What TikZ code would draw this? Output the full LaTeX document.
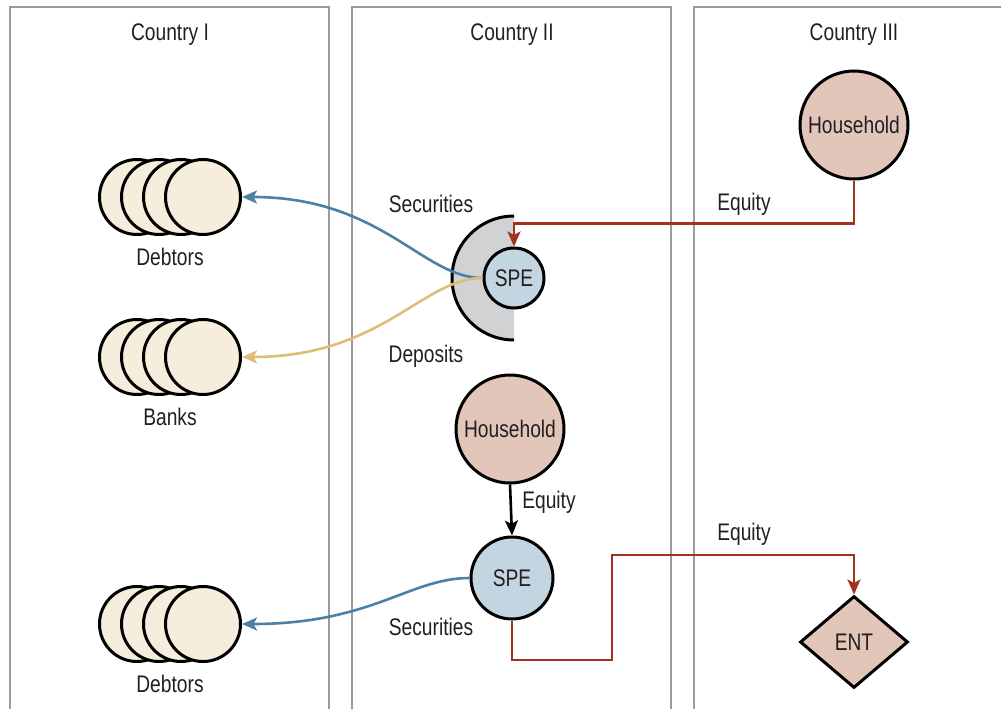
\documentclass[tikz,border=0pt]{standalone}
\usepackage{fontspec}
\setmainfont{Liberation Sans}[FakeStretch=0.8]
\usetikzlibrary{arrows.meta,shapes.geometric}

\definecolor{panelgray}{HTML}{9B9B9B}
\definecolor{txt}{HTML}{231F20}
\definecolor{cream}{HTML}{F6EEDC}
\definecolor{spefill}{HTML}{C3D5E1}
\definecolor{halfgray}{HTML}{D1D2D4}
\definecolor{rose}{HTML}{E3C6BA}
\definecolor{redline}{HTML}{A3311F}
\definecolor{blueline}{HTML}{4B81A2}
\definecolor{goldline}{HTML}{DDBE76}

\tikzset{
  lbl/.style={font=\fontsize{24}{28}\selectfont, text=txt, inner sep=0pt, yshift=-2pt},
  panel/.style={draw=panelgray, line width=2.2pt},
  party/.style={circle, draw=black, line width=3pt, fill=cream, minimum size=75pt, inner sep=0pt},
  spe/.style={circle, draw=black, line width=3pt, fill=spefill, inner sep=0pt,
    font=\fontsize{24}{28}\selectfont, text=txt},
  house/.style={circle, draw=black, line width=3pt, fill=rose, minimum size=108pt, inner sep=0pt,
    font=\fontsize{24}{28}\selectfont, text=txt},
  flow/.style={line width=2.6pt, -{Stealth[length=15pt,width=13pt,inset=3.5pt]}},
}

\begin{document}
\begin{tikzpicture}[x=1pt, y=-1pt]
\useasboundingbox (0,0) rectangle (1001,709);
\clip (0,0) rectangle (1001,709);

% country panels (open at the bottom)
\draw[panel] (10,730) -- (10,7) -- (329,7) -- (329,730);
\draw[panel] (352,730) -- (352,7) -- (671,7) -- (671,730);
\draw[panel] (694,730) -- (694,7) -- (1020,7);

\node[lbl] (c1) at (170,33) {Country I};
\node[lbl] (c2) at (512,33) {Country II};
\node[lbl] (c3) at (854,33) {Country III};

% Country I: stacks of debtors and banks
\foreach \r/\y in {a/197, b/357, c/624} {
  \node[party] (\r1) at (137,\y) {};
  \node[party] (\r2) at (159,\y) {};
  \node[party] (\r3) at (181,\y) {};
  \node[party] (\r4) at (203,\y) {};
}
\node[lbl] (debtorsA) at (170,255) {Debtors};
\node[lbl] (banks) at (170,415) {Banks};
\node[lbl] (debtorsB) at (170,682) {Debtors};

% Country II: upper SPE with its half-disc balance sheet
\coordinate (hc) at (514,278);
\fill[halfgray] (514,216) arc[start angle=-90, end angle=-270, radius=62] -- cycle;
\draw[line width=3pt] (514,216) arc[start angle=-90, end angle=-270, radius=62];
\node[spe, minimum size=60pt] (spe1) at (hc) {SPE};

% Country II: household and lower SPE
\node[house] (hh2) at (510,429) {Household};
\node[spe, minimum size=82pt] (spe2) at (512,578) {SPE};

% Country III
\node[house] (hh3) at (854,125) {Household};
\node[diamond, draw=black, line width=3pt, fill=rose, minimum width=108pt, minimum height=92pt,
      inner sep=0pt, font=\fontsize{24}{28}\selectfont, text=txt] (ent) at (854,642) {ENT};

% flows
\draw[flow, blueline] (spe1.west) .. controls +(-60,0) and +(140,0) .. (a4.east);
\draw[flow, goldline] (spe1.west) .. controls +(-60,0) and +(140,0) .. (b4.east);
\draw[flow, blueline] (spe2.west) .. controls +(-60,0) and +(130,0) .. (c4.east);

\draw[flow, redline] (hh3.south) -- ++(0,43) -| (spe1.north);
\draw[flow, black] (hh2.south) -- (spe2.north);

\coordinate (b1) at (612,660);
\coordinate (b2) at (612,555);
\draw[flow, redline] (spe2.south) |- (b1) -- (b2) -| (ent.north);

% flow labels
\node[lbl] (secA) at (431,202) {Securities};
\node[lbl] (dep) at (426,354) {Deposits};
\node[lbl] (eqA) at (744,202) {Equity};
\node[lbl] (eqB) at (549,500) {Equity};
\node[lbl] (eqC) at (744,532) {Equity};
\node[lbl] (secB) at (431,625) {Securities};
\end{tikzpicture}
\end{document}
